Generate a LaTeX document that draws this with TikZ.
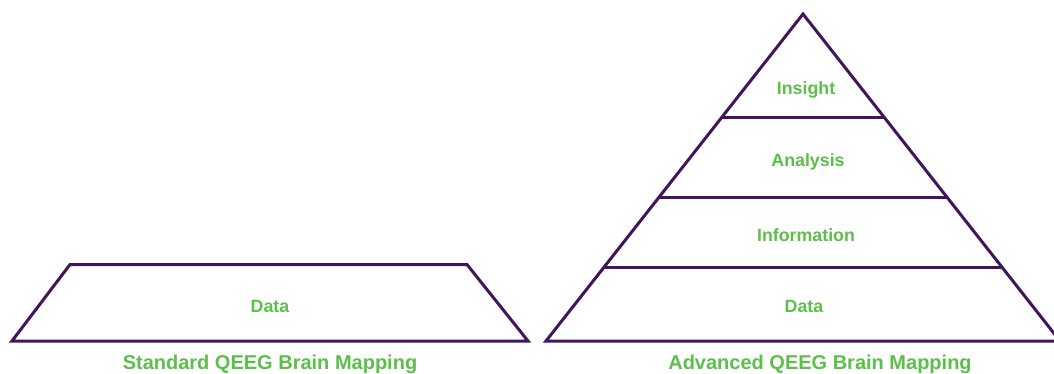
\documentclass[tikz,border=0pt]{standalone}
\usepackage{fontspec}
\setmainfont{Liberation Sans}
\definecolor{qpurple}{HTML}{40155C}
\definecolor{qgreen}{HTML}{5CBF4A}
\tikzset{
	edge/.style={line width=3pt, color=qpurple, line join=miter},
	level/.style={text=qgreen, font=\fontsize{17.8}{20}\selectfont\bfseries, anchor=base, inner sep=0pt},
	caption/.style={text=qgreen, font=\fontsize{20}{24}\selectfont\bfseries, anchor=base, inner sep=0pt}
}

\begin{document}
\begin{tikzpicture}[x=1pt, y=-1pt]
		%%%%% START %%%%%
		\useasboundingbox (0, 0) rectangle (1054, 374);
		
		% standard: one layer only
		\draw[edge] (70, 264.5) -- (467, 264.5) -- (528, 341) -- (12, 341) -- cycle;
		\node[level] (stddata) at (270, 312) {Data};
		\node[caption] (stdtitle) at (270, 369.5) {Standard QEEG Brain Mapping};
		
		% advanced: full pyramid
		\draw[edge] (803, 14) -- (1060, 341) -- (546, 341) -- cycle;
		\draw[edge] (721, 118) -- (885, 118);
		\draw[edge] (659, 197.5) -- (947, 197.5);
		\draw[edge] (604, 267) -- (1002, 267);
		
		\node[level] (insight) at (806, 95) {Insight};
		\node[level] (analysis) at (808, 166.5) {Analysis};
		\node[level] (information) at (806, 241) {Information};
		\node[level] (advdata) at (804, 312.5) {Data};
		\node[caption] (advtitle) at (820, 369.5) {Advanced QEEG Brain Mapping};
		%%%%% END %%%%%
\end{tikzpicture}
\end{document}
